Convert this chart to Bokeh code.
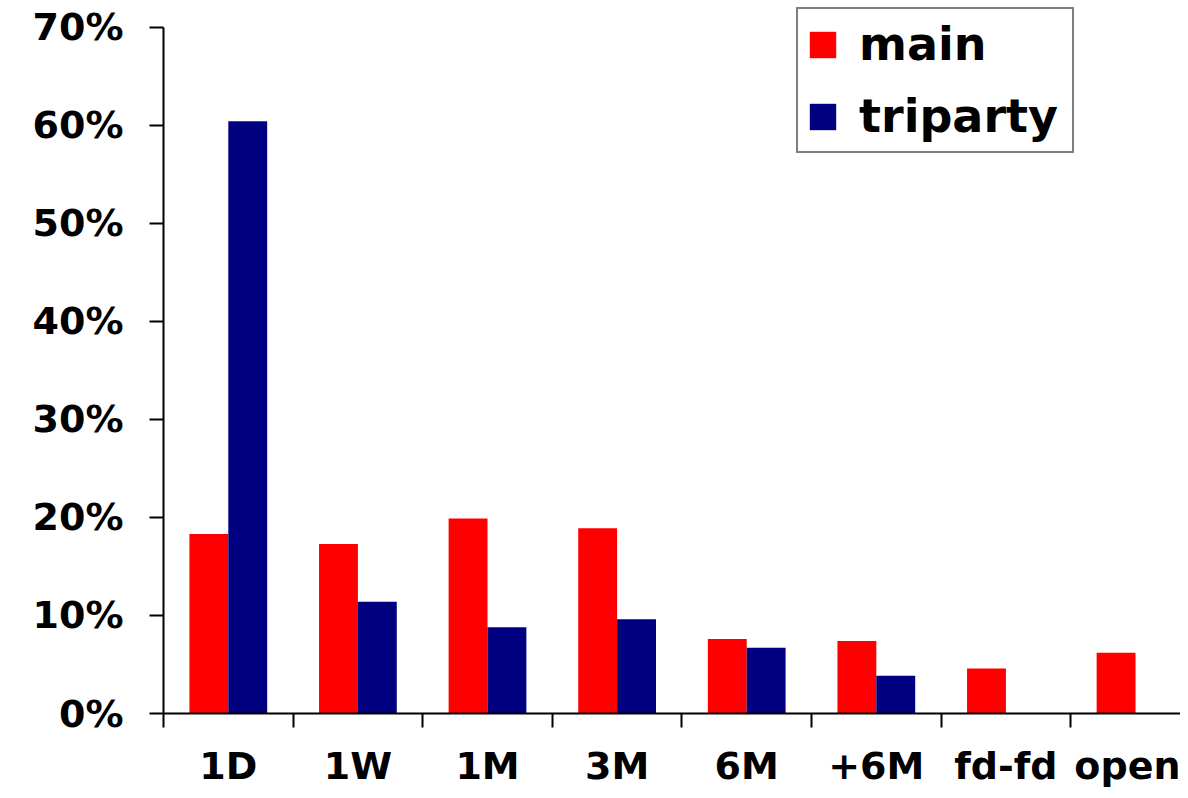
from bokeh.plotting import figure
from bokeh.models import Range1d, LinearAxis, FixedTicker, NumeralTickFormatter, Legend, LegendItem, ColumnDataSource
from bokeh.embed import file_html
from bokeh.resources import INLINE
import numpy as np

categories = ["1D", "1W", "1M", "3M", "6M", "+6M", "fd-fd", "open"]
main = [0.183, 0.173, 0.199, 0.189, 0.076, 0.074, 0.046, 0.062]
triparty = [0.604, 0.114, 0.088, 0.096, 0.067, 0.0385, 0.0, 0.0]
y_ticks = [0.0, 0.1, 0.2, 0.3, 0.4, 0.5, 0.6, 0.7]

FONT = "DejaVu Sans"
n = len(categories)
centers = np.arange(n) + 0.5
bounds_x = list(range(n + 1))

src = ColumnDataSource(dict(
    xm=centers - 0.15, xt=centers + 0.15, main=main, triparty=triparty))

p = figure(width=1180, height=790, x_range=Range1d(0, 7.847), y_range=Range1d(0, 0.7272),
           output_backend="svg", toolbar_location=None,
           x_axis_location=None, y_axis_location=None,
           min_border_left=163, min_border_right=0, min_border_top=0, min_border_bottom=77)
p.grid.visible = False
p.outline_line_color = None
p.background_fill_color = "white"

r1 = p.vbar(x="xm", top="main", width=0.3, source=src, fill_color="#FF0000", line_color=None)
r2 = p.vbar(x="xt", top="triparty", width=0.3, source=src, fill_color="#000080", line_color=None)

yaxis = LinearAxis(ticker=FixedTicker(ticks=y_ticks), formatter=NumeralTickFormatter(format="0%"),
                   bounds=(0, 0.7), major_tick_out=14, major_tick_in=0,
                   minor_tick_out=0, minor_tick_in=0,
                   axis_line_width=2, major_tick_line_width=2,
                   major_label_standoff=26,
                   major_label_text_font=FONT, major_label_text_font_style="bold",
                   major_label_text_font_size="38px", major_label_text_color="black")
p.add_layout(yaxis, "left")

xaxis = LinearAxis(ticker=FixedTicker(ticks=list(centers), minor_ticks=bounds_x),
                   major_label_overrides={float(c): name for c, name in zip(centers, categories)},
                   major_tick_out=0, major_tick_in=0, major_tick_line_color=None,
                   minor_tick_out=14, minor_tick_in=0, minor_tick_line_width=2,
                   minor_tick_line_color="black",
                   axis_line_width=2, major_label_standoff=16,
                   major_label_text_font=FONT, major_label_text_font_style="bold",
                   major_label_text_font_size="38px", major_label_text_color="black")
p.add_layout(xaxis, "below")

legend = Legend(items=[LegendItem(label="main", renderers=[r1]),
                       LegendItem(label="triparty", renderers=[r2])],
                location=(633, 560), orientation="vertical",
                border_line_color="black", border_line_width=2,
                background_fill_color="white", background_fill_alpha=1.0,
                padding=8, spacing=18, margin=0,
                glyph_width=33, glyph_height=33, label_standoff=20, label_width=205,
                label_text_font=FONT, label_text_font_style="bold",
                label_text_font_size="46px", label_text_color="black")
p.add_layout(legend)

open("out.html", "w").write(file_html(p, INLINE))
